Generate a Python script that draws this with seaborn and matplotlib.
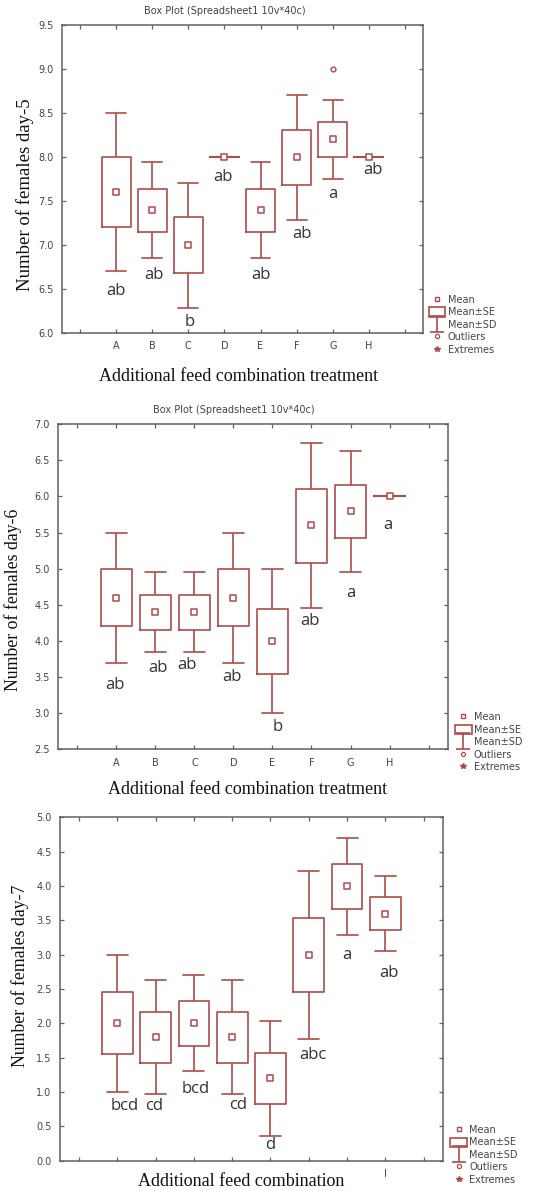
import numpy as np
import pandas as pd
import matplotlib
matplotlib.use("Agg")
import matplotlib.pyplot as plt
from matplotlib.lines import Line2D
from matplotlib.patches import Rectangle
from matplotlib.path import Path
import seaborn as sns

sns.set_style("white")
plt.rcParams["font.family"] = ["DejaVu Sans"]

groups = ["A", "B", "C", "D", "E", "F", "G", "H"]

# ---- Day 5 ----
d5_mean = [7.6, 7.4, 7.0, 8.0, 7.4, 8.0, 8.2, 8.0]
d5_se_lo = [7.2, 7.15, 6.68, 8.0, 7.15, 7.68, 8.0, 8.0]
d5_se_hi = [8.0, 7.64, 7.32, 8.0, 7.64, 8.31, 8.4, 8.0]
d5_sd_lo = [6.7, 6.85, 6.28, 8.0, 6.85, 7.28, 7.75, 8.0]
d5_sd_hi = [8.5, 7.94, 7.71, 8.0, 7.94, 8.71, 8.65, 8.0]
d5_outlier_group = ["G"]
d5_outlier_val = [9.0]
d5_letters = ["ab", "ab", "b", "ab", "ab", "ab", "a", "ab"]
d5_letter_y = [6.48, 6.66, 6.12, 7.77, 6.66, 7.13, 7.58, 7.85]
d5_letter_dx = [0.0, 0.05, 0.05, -0.05, 0.0, 0.15, 0.0, 0.1]
d5_yticks = [6.0, 6.5, 7.0, 7.5, 8.0, 8.5, 9.0, 9.5]

# ---- Day 6 ----
d6_mean = [4.6, 4.4, 4.4, 4.6, 4.0, 5.6, 5.8, 6.0]
d6_se_lo = [4.2, 4.15, 4.15, 4.2, 3.54, 5.08, 5.43, 6.0]
d6_se_hi = [5.0, 4.63, 4.63, 5.0, 4.44, 6.11, 6.16, 6.0]
d6_sd_lo = [3.7, 3.85, 3.85, 3.7, 3.0, 4.45, 4.96, 6.0]
d6_sd_hi = [5.5, 4.95, 4.95, 5.5, 5.0, 6.74, 6.63, 6.0]
d6_letters = ["ab", "ab", "ab", "ab", "b", "ab", "a", "a"]
d6_letter_y = [3.39, 3.62, 3.67, 3.50, 2.81, 4.27, 4.66, 5.61]
d6_letter_dx = [-0.05, 0.05, -0.2, -0.05, 0.14, -0.05, 0.0, -0.05]
d6_yticks = [2.5, 3.0, 3.5, 4.0, 4.5, 5.0, 5.5, 6.0, 6.5, 7.0]

# ---- Day 7 ----
d7_mean = [2.0, 1.8, 2.0, 1.8, 1.2, 3.0, 4.0, 3.6]
d7_se_lo = [1.55, 1.42, 1.67, 1.42, 0.83, 2.45, 3.67, 3.36]
d7_se_hi = [2.45, 2.17, 2.32, 2.17, 1.57, 3.54, 4.32, 3.84]
d7_sd_lo = [1.0, 0.97, 1.30, 0.97, 0.36, 1.77, 3.29, 3.05]
d7_sd_hi = [3.0, 2.63, 2.70, 2.63, 2.03, 4.22, 4.70, 4.15]
d7_letters = ["bcd", "cd", "bcd", "cd", "d", "abc", "a", "ab"]
d7_letter_y = [0.79, 0.79, 1.04, 0.81, 0.23, 1.54, 3.0, 2.74]
d7_letter_dx = [0.2, -0.05, 0.05, 0.15, 0.0, 0.1, 0.0, 0.1]
d7_yticks = [0.0, 0.5, 1.0, 1.5, 2.0, 2.5, 3.0, 3.5, 4.0, 4.5, 5.0]
d7_xticklabels = ["", "", "", "", "", "", "", "I"]

RED = "#ae4a4a"
SPINE = "#606060"


def long_table(mean, se_lo, se_hi, sd_lo, sd_hi):
    rows = []
    for g, m, a, b, c, d in zip(groups, mean, se_lo, se_hi, sd_lo, sd_hi):
        for v in (c, a, m, b, d):
            rows.append({"group": g, "value": v})
    return pd.DataFrame(rows)


def panel(ax, mean, se_lo, se_hi, sd_lo, sd_hi, ylim, yticks, letters,
          letter_y, letter_dx, ylabel, xlabel, ylab_pos, xlab_pos,
          ylab_size, xticklabels=None, title=None, outliers=None,
          leg_x=1.016):
    df = long_table(mean, se_lo, se_hi, sd_lo, sd_hi)
    sns.boxplot(data=df, x="group", y="value", order=groups, ax=ax,
                whis=np.inf, fill=False, color=RED, linewidth=1.2,
                width=0.8, showcaps=True,
                medianprops={"linewidth": 0, "alpha": 0},
                capwidths=0.55)
    mdf = pd.DataFrame({"group": groups, "mean": mean})
    sns.scatterplot(data=mdf, x="group", y="mean", ax=ax, marker="s",
                    s=14, facecolor="white", edgecolor=RED, linewidth=1.1,
                    zorder=5)
    if outliers is not None:
        odf = pd.DataFrame({"group": outliers[0], "val": outliers[1]})
        sns.scatterplot(data=odf, x="group", y="val", ax=ax, marker="o",
                        s=12, facecolor="white", edgecolor=RED,
                        linewidth=1.0, zorder=5)
    for i, (t, y, dx) in enumerate(zip(letters, letter_y, letter_dx)):
        ax.text(i + dx, y, t, ha="center", va="center", fontsize=12,
                family="Open Sans", color="#333333")
    ax.set_xlim(-1.5, 8.5)
    ax.set_ylim(*ylim)
    ax.set_yticks(yticks)
    ax.set_yticklabels([f"{v:.1f}" for v in yticks], fontsize=7,
                       color="#444444")
    ax.set_xticks(range(-1, 9))
    if xticklabels is None:
        xticklabels = groups
    ax.set_xticklabels([""] + list(xticklabels) + [""], fontsize=7,
                       color="#444444")
    ax.tick_params(axis="both", which="both", direction="in", length=3,
                   width=0.9, color=SPINE, top=True, right=True,
                   bottom=True, left=True, pad=6)
    for s in ax.spines.values():
        s.set_visible(True)
        s.set_color(SPINE)
        s.set_linewidth(1.1)
    ax.set_ylabel(ylabel, family="Liberation Serif", fontsize=ylab_size,
                  color="#111111")
    ax.yaxis.set_label_coords(*ylab_pos)
    ax.set_xlabel(xlabel, family="Liberation Serif", fontsize=13,
                  color="#111111")
    ax.xaxis.set_label_coords(*xlab_pos)
    ax.grid(False)

    # legend
    ibeam = Path([(-0.5, 0.6), (0.5, 0.6), (0.0, 0.6), (0.0, -0.6),
                  (-0.5, -0.6), (0.5, -0.6)],
                 [Path.MOVETO, Path.LINETO, Path.MOVETO, Path.LINETO,
                  Path.MOVETO, Path.LINETO])
    handles = [
        Line2D([], [], marker="s", ls="none", markersize=3.5,
               markerfacecolor="white", markeredgecolor=RED,
               markeredgewidth=1.0),
        Rectangle((0, 0), 1, 1, facecolor="white", edgecolor=RED,
                  linewidth=1.2),
        Line2D([], [], marker=ibeam, ls="none", markersize=12,
               markerfacecolor="none", markeredgecolor=RED,
               markeredgewidth=1.2),
        Line2D([], [], marker="o", ls="none", markersize=3,
               markerfacecolor="white", markeredgecolor=RED,
               markeredgewidth=0.9),
        Line2D([], [], marker="*", ls="none", markersize=4,
               markerfacecolor=RED, markeredgecolor=RED),
    ]
    labels = ["Mean", "Mean±SE", "Mean±SD", "Outliers", "Extremes"]
    leg = ax.legend(handles, labels, loc="lower left",
                    bbox_to_anchor=(leg_x, -0.07), frameon=False,
                    fontsize=7, handlelength=1.7, handleheight=1.1,
                    handletextpad=0.25, labelspacing=0.25, borderpad=0,
                    borderaxespad=0)
    for t in leg.get_texts():
        t.set_color("#444444")
    if title:
        ax.set_title(title, fontsize=7, color="#444444", pad=8, x=0.45)


fig = plt.figure(figsize=(5.41, 11.91), dpi=100)
ax1 = fig.add_axes([0.1146, 0.7204, 0.6673, 0.2586])
ax2 = fig.add_axes([0.1072, 0.3709, 0.7209, 0.2729])
ax3 = fig.add_axes([0.1109, 0.0254, 0.7074, 0.2883])

panel(ax1, d5_mean, d5_se_lo, d5_se_hi, d5_sd_lo, d5_sd_hi, (6.0, 9.5),
      d5_yticks, d5_letters, d5_letter_y, d5_letter_dx,
      "Number of females day-5", "Additional feed combination treatment",
      ylab_pos=(-0.078, 0.448), xlab_pos=(0.488, -0.113), ylab_size=13.5,
      title="Box Plot (Spreadsheet1 10v*40c)",
      outliers=(d5_outlier_group, d5_outlier_val), leg_x=1.016)
panel(ax2, d6_mean, d6_se_lo, d6_se_hi, d6_sd_lo, d6_sd_hi, (2.5, 7.0),
      d6_yticks, d6_letters, d6_letter_y, d6_letter_dx,
      "Number of females day-6", "Additional feed combination treatment",
      ylab_pos=(-0.093, 0.459), xlab_pos=(0.487, -0.097), ylab_size=12.8,
      title="Box Plot (Spreadsheet1 10v*40c)", leg_x=1.018)
panel(ax3, d7_mean, d7_se_lo, d7_se_hi, d7_sd_lo, d7_sd_hi, (0.0, 5.0),
      d7_yticks, d7_letters, d7_letter_y, d7_letter_dx,
      "Number of females day-7", "Additional feed combination",
      ylab_pos=(-0.081, 0.538), xlab_pos=(0.473, -0.036), ylab_size=12.8,
      xticklabels=d7_xticklabels, leg_x=1.02)

fig.savefig("out.png", dpi=100)
